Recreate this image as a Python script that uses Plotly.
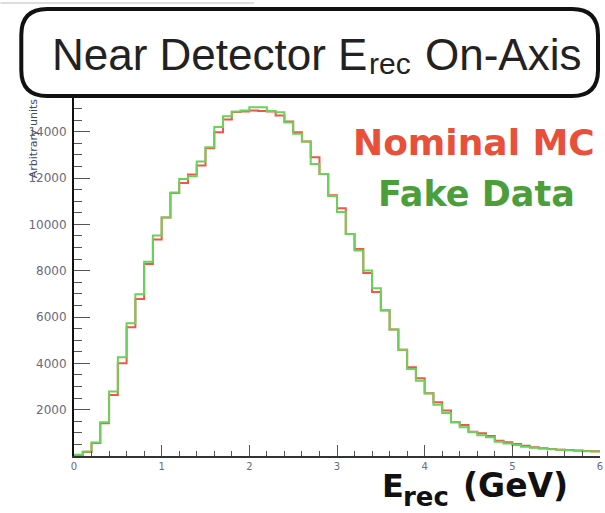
import numpy as np
import plotly.graph_objects as go

# Reconstructed energy binning: 60 bins of 0.1 GeV from 0 to 6 GeV
bin_edges = np.round(np.linspace(0.0, 6.0, 61), 2)

nominal_mc = [
    40, 170, 560, 1410, 2630, 4000, 5560, 6780, 8290, 9345,
    10300, 11350, 11790, 12150, 12540, 13290, 13980, 14530, 14850, 14870,
    14920, 14900, 14870, 14700, 14440, 13980, 13580, 12900, 12180, 11260,
    10700, 9590, 8940, 7905, 7080, 6280, 5460, 4590, 3830, 3355,
    2710, 2320, 1960, 1455, 1340, 1050, 980, 865, 660, 590,
    520, 445, 375, 330, 300, 275, 260, 240, 220, 200,
]

fake_data = [
    50, 190, 580, 1460, 2780, 4260, 5730, 6985, 8390, 9515,
    10300, 11380, 11965, 12080, 12710, 13335, 14200, 14670, 14870, 14915,
    15060, 15060, 14900, 14840, 14400, 13910, 13580, 12610, 12180, 11230,
    10530, 9590, 8870, 8005, 7240, 6300, 5460, 4590, 3760, 3250,
    2700, 2215, 1860, 1455, 1240, 1040, 900, 805, 620, 545,
    475, 400, 360, 320, 290, 265, 250, 230, 210, 190,
]

x_ticks = [0, 1, 2, 3, 4, 5, 6]
y_ticks = [2000, 4000, 6000, 8000, 10000, 12000, 14000]

W, H = 605, 513
M_L, M_R, M_T, M_B = 74, 2, 97, 57
PW = W - M_L - M_R
PH = H - M_T - M_B

SANS = "Liberation Sans, Arial, sans-serif"
DEJAVU = "DejaVu Sans, sans-serif"


def xp(px):
    return (px - M_L) / PW


def yp(py):
    return (H - M_B - py) / PH


def step(values):
    # outline of a histogram: each bin content held across its bin
    return list(values) + [values[-1]]


def label(fig, text, x, baseline, size, color, family, anchor="left", angle=0):
    # place a text by its baseline (middle of the font box sits ~0.35 em above it)
    fig.add_annotation(
        text=text, xref="paper", yref="paper", textangle=angle,
        x=xp(x), y=yp(baseline - 0.35 * size), xanchor=anchor, yanchor="middle",
        showarrow=False, borderpad=0, borderwidth=0,
        font=dict(family=family, size=size, color=color),
    )


fig = go.Figure()
fig.add_trace(go.Scatter(
    x=bin_edges, y=step(nominal_mc), mode="lines", line_shape="hv",
    line=dict(color="#f0564a", width=2), name="Nominal MC", showlegend=False,
))
fig.add_trace(go.Scatter(
    x=bin_edges, y=step(fake_data), mode="lines", line_shape="hv",
    line=dict(color="#6ad25a", width=2), name="Fake Data", showlegend=False,
))

tick_color = "#6a6a7a"

fig.update_xaxes(
    range=[0, 6], tickvals=x_ticks, ticktext=[str(v) for v in x_ticks],
    ticks="inside", ticklen=11, tickwidth=1.2, tickcolor="#555",
    minor=dict(ticks="inside", dtick=0.2, ticklen=5, tickcolor="#555", tickwidth=1),
    showline=True, linecolor="#333", linewidth=2, showgrid=False, zeroline=False,
    tickfont=dict(family=DEJAVU, size=10, color=tick_color),
    ticklabeloverflow="allow",
)
fig.update_yaxes(
    range=[0, 15500], tickvals=y_ticks, ticktext=[str(v) for v in y_ticks],
    ticks="inside", ticklen=16, tickwidth=1.2, tickcolor="#555",
    minor=dict(ticks="inside", dtick=500, ticklen=8, tickcolor="#555", tickwidth=1),
    showline=True, linecolor="#111", linewidth=2, showgrid=False, zeroline=False,
    tickfont=dict(family=DEJAVU, size=12, color=tick_color), ticklabelstandoff=3,
)

# rounded title frame
x0, x1, y0, y1, r = xp(21), xp(601), yp(9), yp(96), 26
rx, ry = r / PW, r / PH
path = (
    f"M {x0 + rx} {y0} L {x1 - rx} {y0} Q {x1} {y0} {x1} {y0 - ry} "
    f"L {x1} {y1 + ry} Q {x1} {y1} {x1 - rx} {y1} "
    f"L {x0 + rx} {y1} Q {x0} {y1} {x0} {y1 + ry} "
    f"L {x0} {y0 - ry} Q {x0} {y0} {x0 + rx} {y0} Z"
)
fig.add_shape(type="path", path=path, xref="paper", yref="paper",
              line=dict(color="#111", width=4), fillcolor="white", layer="above")
fig.add_shape(type="line", xref="paper", yref="paper",
              x0=xp(0), x1=xp(255), y0=yp(3), y1=yp(3),
              line=dict(color="#bbbbbb", width=1), layer="above")

# title: "Near Detector E_rec On-Axis"
label(fig, "Near Detector E", 369, 69.5, 44, "#222", SANS, anchor="right")
label(fig, "rec", 371, 73.5, 30, "#222", SANS)
label(fig, "On-Axis", 427, 69.5, 44, "#222", SANS)

# legend texts
label(fig, "<b>Nominal MC</b>", 476, 155, 36, "#e8503a", DEJAVU, anchor="center")
label(fig, "<b>Fake Data</b>", 479, 206, 35, "#4c9e3a", DEJAVU, anchor="center")

# x-axis title: "E_rec (GeV)"
label(fig, "<b>E</b>", 384, 497, 32, "#111", DEJAVU)
label(fig, "<b>rec</b>", 405, 506, 26, "#111", DEJAVU)
label(fig, "<b>(GeV)</b>", 465, 497, 33, "#111", DEJAVU)

# y-axis title
fig.add_annotation(
    text="Arbitrary units", xref="paper", yref="paper", textangle=-90,
    x=xp(33), y=yp(138), xanchor="center", yanchor="middle", showarrow=False,
    font=dict(family=DEJAVU, size=11, color="#3a4a6a"),
)

fig.update_layout(
    width=W, height=H,
    margin=dict(l=M_L, r=M_R, t=M_T, b=M_B),
    paper_bgcolor="white", plot_bgcolor="white",
    showlegend=False,
)

fig.write_html("out.html")
